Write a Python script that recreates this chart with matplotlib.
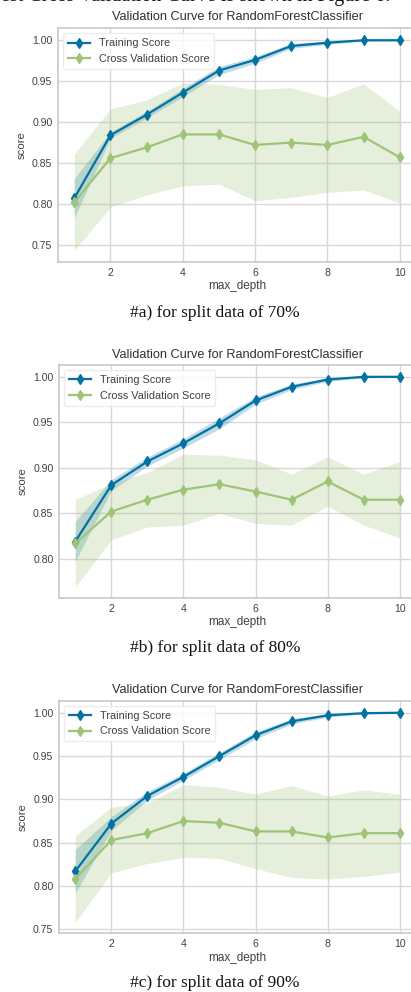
import matplotlib
matplotlib.use("Agg")
import matplotlib.pyplot as plt
import numpy as np

# ---- data ----
max_depth = [1, 2, 3, 4, 5, 6, 7, 8, 9, 10]
x_ticks = [2, 4, 6, 8, 10]

train_a = [0.807, 0.884, 0.909, 0.936, 0.963, 0.976, 0.993, 0.997, 1.000, 1.000]
train_std_a = [0.024, 0.004, 0.004, 0.005, 0.005, 0.004, 0.003, 0.002, 0.001, 0.0005]
cv_a = [0.802, 0.856, 0.869, 0.885, 0.885, 0.872, 0.875, 0.872, 0.882, 0.857]
cv_std_a = [0.059, 0.060, 0.058, 0.063, 0.061, 0.068, 0.067, 0.058, 0.065, 0.056]

train_b = [0.819, 0.881, 0.907, 0.927, 0.949, 0.974, 0.989, 0.997, 1.000, 1.000]
train_std_b = [0.022, 0.006, 0.005, 0.005, 0.006, 0.004, 0.003, 0.002, 0.001, 0.0005]
cv_b = [0.817, 0.852, 0.865, 0.876, 0.882, 0.874, 0.865, 0.885, 0.865, 0.865]
cv_std_b = [0.048, 0.031, 0.030, 0.039, 0.032, 0.035, 0.028, 0.027, 0.028, 0.042]

train_c = [0.817, 0.872, 0.904, 0.926, 0.950, 0.974, 0.990, 0.997, 0.9995, 1.000]
train_std_c = [0.025, 0.008, 0.005, 0.004, 0.004, 0.004, 0.003, 0.002, 0.001, 0.0005]
cv_c = [0.808, 0.853, 0.861, 0.875, 0.873, 0.863, 0.863, 0.856, 0.861, 0.861]
cv_std_c = [0.050, 0.038, 0.035, 0.042, 0.041, 0.043, 0.053, 0.048, 0.050, 0.045]

y_ticks_a = [0.75, 0.80, 0.85, 0.90, 0.95, 1.00]
y_ticks_b = [0.80, 0.85, 0.90, 0.95, 1.00]
y_ticks_c = [0.75, 0.80, 0.85, 0.90, 0.95, 1.00]

title = "Validation Curve for RandomForestClassifier"
captions = ["#a) for split data of 70%", "#b) for split data of 80%", "#c) for split data of 90%"]
top_text = "Forest Cross Validation Curve is shown in Figure 6."

BLUE = "#0272a2"
GREEN = "#9fc377"

W, H = 411, 992
fig = plt.figure(figsize=(W / 100, H / 100), dpi=100)

plt.rcParams["font.family"] = ["Liberation Sans", "DejaVu Sans"]

def px_rect(left, top, right, bottom):
    return [left / W, 1 - bottom / H, (right - left) / W, (bottom - top) / H]

panels = [
    dict(rect=px_rect(58, 28, 416, 262), ylim=(0.729, 1.015), tr=train_a, trs=train_std_a,
         cv=cv_a, cvs=cv_std_a, yt=y_ticks_a, title_y=17.5, cap_y=313),
    dict(rect=px_rect(59, 365, 416, 598), ylim=(0.757, 1.013), tr=train_b, trs=train_std_b,
         cv=cv_b, cvs=cv_std_b, yt=y_ticks_b, title_y=355, cap_y=648),
    dict(rect=px_rect(59, 700.7, 416, 933.3), ylim=(0.7454, 1.0139), tr=train_c, trs=train_std_c,
         cv=cv_c, cvs=cv_std_c, yt=y_ticks_c, title_y=690, cap_y=983),
]

x = np.array(max_depth)
for p, cap in zip(panels, captions):
    ax = fig.add_axes(p["rect"])
    ax.set_facecolor("white")
    tr = np.array(p["tr"]); trs = np.array(p["trs"])
    cv = np.array(p["cv"]); cvs = np.array(p["cvs"])
    ax.fill_between(x, tr - trs, tr + trs, color=BLUE, alpha=0.25, lw=0)
    ax.fill_between(x, cv - cvs, cv + cvs, color=GREEN, alpha=0.25, lw=0)
    ax.plot(x, tr, "d-", color=BLUE, lw=1.6, ms=5.5, label="Training Score")
    ax.plot(x, cv, "d-", color=GREEN, lw=1.6, ms=5.5, label="Cross Validation Score")
    ax.set_xlim(0.55, 10.45)
    ax.set_ylim(*p["ylim"])
    ax.set_xticks(x_ticks)
    ax.set_yticks(p["yt"])
    ax.set_yticklabels([f"{v:.2f}" for v in p["yt"]])
    ax.grid(True, color="#d8d8d8", lw=1.0)
    ax.set_axisbelow(True)
    for s in ax.spines.values():
        s.set_color("#c8c8c8")
        s.set_linewidth(1.2)
    ax.tick_params(axis="both", length=0, labelsize=7.6, colors="#404040", pad=4)
    ax.set_xlabel("max_depth", fontsize=8.5, color="#404040", labelpad=2)
    ax.set_ylabel("score", fontsize=8.2, color="#404040", labelpad=4)
    leg = ax.legend(loc="upper left", fontsize=7.8, frameon=True, facecolor="white",
                    edgecolor="#e8e8e8", framealpha=0.8, borderpad=0.45, handlelength=2.0)
    for t in leg.get_texts():
        t.set_color("#404040")
    fig.text(237 / W, 1 - p["title_y"] / H, title, ha="center", va="center",
             fontsize=9.2, color="#303030")
    fig.text(215 / W, 1 - p["cap_y"] / H, cap, ha="center", va="center",
             fontsize=12.5, color="#111111", family=["Liberation Serif", "DejaVu Serif"])

# partially visible line of body text cut by the top edge (as in the reference)
fig.text(390 / W, 1 - 1.5 / H, top_text, ha="right", va="baseline", fontsize=14.5,
         color="#111111", family=["Liberation Serif", "DejaVu Serif"])

fig.savefig("out.png", dpi=100)
